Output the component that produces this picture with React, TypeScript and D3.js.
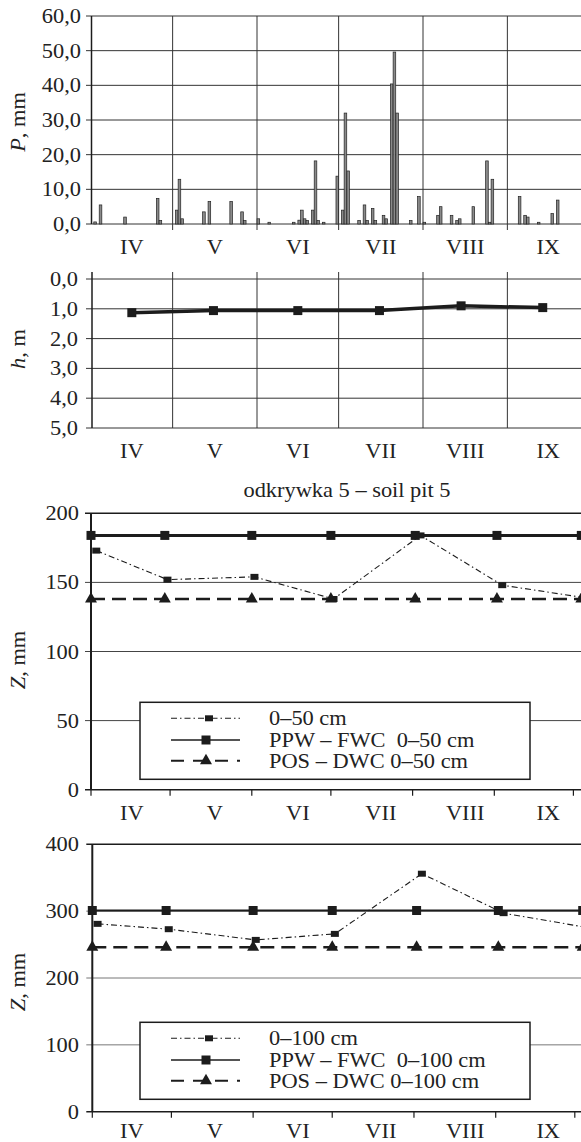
import * as d3 from 'd3'

// ---- data ----
const months = ['IV', 'V', 'VI', 'VII', 'VIII', 'IX']

// daily precipitation, mm (month-day)
const precipDates = [
  '04-02', '04-04', '04-13', '04-25', '04-26',
  '05-02', '05-03', '05-04', '05-12', '05-14', '05-22', '05-26', '05-27',
  '06-01', '06-05', '06-14', '06-16', '06-17', '06-18', '06-19', '06-21', '06-22', '06-23', '06-25', '06-30',
  '07-02', '07-03', '07-04', '07-08', '07-10', '07-11', '07-13', '07-14', '07-17', '07-18', '07-20', '07-21', '07-22', '07-27', '07-30',
  '08-01', '08-06', '08-07', '08-11', '08-13', '08-14', '08-19', '08-24', '08-25', '08-26',
  '09-05', '09-07', '09-08', '09-12', '09-17', '09-19',
]
const precipValues = [
  0.6, 5.5, 2.0, 7.4, 1.0,
  4.0, 12.9, 1.5, 3.5, 6.5, 6.5, 3.5, 1.0,
  1.5, 0.5, 0.5, 1.1, 4.0, 1.5, 1.0, 4.0, 18.2, 1.0, 0.5, 13.8,
  4.0, 32.0, 15.3, 1.0, 5.5, 1.0, 4.5, 1.0, 2.5, 1.5, 40.4, 49.6, 32.0, 1.0, 7.9,
  0.5, 2.5, 5.0, 2.5, 1.0, 1.5, 5.0, 18.2, 0.5, 12.9,
  7.9, 2.5, 2.0, 0.5, 3.0, 6.9,
]
const pTicks = [0, 10, 20, 30, 40, 50, 60]

// groundwater depth h, m
const hDates = ['04-16', '05-16', '06-16', '07-16', '08-15', '09-14']
const hValues = [1.13, 1.06, 1.06, 1.06, 0.9, 0.96]
const hTicks = [0, 1, 2, 3, 4, 5]

// soil water storage Z, mm
const refDates = ['04-01', '04-29', '06-01', '07-01', '08-02', '09-02', '10-04']
const measDates = ['04-03', '04-30', '06-02', '07-02', '08-04', '09-04', '10-05']
const z50Values = [173, 152, 154, 138, 184, 148, 139]
const fwc50Values = [184, 184, 184, 184, 184, 184, 184]
const dwc50Values = [138, 138, 138, 138, 138, 138, 138]
const z50Ticks = [0, 50, 100, 150, 200]

const z100Values = [281, 273, 257, 266, 356, 297, 276]
const fwc100Values = [301, 301, 301, 301, 301, 301, 301]
const dwc100Values = [246, 246, 246, 246, 246, 246, 246]
const z100Ticks = [0, 100, 200, 300, 400]

const title = 'odkrywka 5 – soil pit 5'
const legend50 = ['0–50 cm', 'PPW – FWC \u00a00–50 cm', 'POS – DWC 0–50 cm']
const legend100 = ['0–100 cm', 'PPW – FWC \u00a00–100 cm', 'POS – DWC 0–100 cm']

// ---- helpers ----
const day = (s: string) => new Date(2000, +s.slice(0, 2) - 1, +s.slice(3))
const seasonStart = new Date(2000, 3, 1)
const seasonEnd = new Date(2000, 9, 1)
const monthStarts = d3.timeMonth.range(seasonStart, d3.timeMonth.offset(seasonEnd, 1))
const monthMid = (m: Date) => new Date((+m + +d3.timeMonth.offset(m, 1)) / 2)
const comma = (v: number) => v.toFixed(1).replace('.', ',')

const FONT = "'Liberation Serif', 'Times New Roman', serif"
const SX = 1.12
const INK = '#1c1c1c'

function T({ x, y, anchor = 'middle', rotate = 0, size = 20, children }: any) {
  return (
    <text
      transform={`translate(${x},${y}) rotate(${rotate}) scale(${SX},1)`}
      textAnchor={anchor}
      fontSize={size}
      fontFamily={FONT}
      fill="#222"
    >
      {children}
    </text>
  )
}

const squarePath = (w: number, h: number) => `M${-w / 2},${-h / 2}h${w}v${h}h${-w}Z`
const triPath = d3.symbol().type(d3.symbolTriangle).size(62)()

// ---- panels ----
function PrecipPanel() {
  const x = d3.scaleTime().domain([seasonStart, seasonEnd]).range([91, 589])
  const y = d3.scaleLinear().domain([0, 60]).range([224, 16])
  const halfDay = (x(day('04-02')) - x(day('04-01'))) / 2
  return (
    <g>
      {pTicks.map(t => (
        <g key={t}>
          <line x1={86} x2={581} y1={y(t)} y2={y(t)} stroke="#333" strokeWidth={1} />
          <T x={81} y={y(t) + 7} anchor="end">{comma(t)}</T>
        </g>
      ))}
      {monthStarts.slice(1).map(m => (
        <line key={+m} x1={x(m)} x2={x(m)} y1={y(60)} y2={y(0) + 6} stroke="#333" strokeWidth={1} />
      ))}
      <line x1={91.5} x2={91.5} y1={y(60)} y2={y(0)} stroke={INK} strokeWidth={1.5} />
      {precipDates.map((d, i) => (
        <rect
          key={d}
          x={x(day(d)) + halfDay - 1.3}
          y={y(precipValues[i])}
          width={2.6}
          height={y(0) - y(precipValues[i])}
          fill="#8a8a8a"
          stroke="#222"
          strokeWidth={0.7}
        />
      ))}
      {months.map((m, i) => (
        <T key={m} x={x(monthMid(monthStarts[i]))} y={254}>{m}</T>
      ))}
      <T x={25} y={122} rotate={-90}>
        <tspan fontStyle="italic">P</tspan>, mm
      </T>
    </g>
  )
}

function DepthPanel() {
  const x = d3.scaleTime().domain([seasonStart, seasonEnd]).range([91, 589])
  const y = d3.scaleLinear().domain([0, 5]).range([279, 428])
  const line = d3.line<number>().x((_, i) => x(day(hDates[i]))).y(v => y(v))
  return (
    <g>
      {hTicks.map(t => (
        <g key={t}>
          <line x1={86} x2={581} y1={y(t)} y2={y(t)} stroke="#333" strokeWidth={1} />
          <T x={78} y={y(t) + 7} anchor="end">{comma(t)}</T>
        </g>
      ))}
      {monthStarts.slice(1).map(m => (
        <line key={+m} x1={x(m)} x2={x(m)} y1={272} y2={y(5)} stroke="#333" strokeWidth={1} />
      ))}
      <line x1={92} x2={92} y1={272} y2={y(5)} stroke={INK} strokeWidth={1.5} />
      <path d={line(hValues) || ''} fill="none" stroke={INK} strokeWidth={3.5} />
      {hValues.map((v, i) => (
        <path key={i} d={squarePath(9, 9)} transform={`translate(${x(day(hDates[i]))},${y(v)})`} fill={INK} />
      ))}
      {months.map((m, i) => (
        <T key={m} x={x(monthMid(monthStarts[i]))} y={458}>{m}</T>
      ))}
      <T x={25} y={349} rotate={-90}>
        <tspan fontStyle="italic">h</tspan>, m
      </T>
    </g>
  )
}

function StoragePanel({ top, bottom, x0, x1, max, ticks, meas, fwc, dwc, labels, legendTop, thickFwc, gridColor, labelY, yLabelY }: any) {
  const x = d3.scaleTime().domain([seasonStart, seasonEnd]).range([x0, x1])
  const xLab = d3.scaleTime().domain([seasonStart, seasonEnd]).range([91, 589])
  const y = d3.scaleLinear().domain([0, max]).range([bottom, top])
  const lineOn = (dates: string[]) =>
    d3.line<number>().x((_, i) => x(day(dates[i]))).y(v => y(v))
  const rows = [legendTop + 16, legendTop + 37.7, legendTop + 58.4]
  return (
    <g>
      {ticks.map((t: number) => (
        <g key={t}>
          <line
            x1={x0 - 6}
            x2={581}
            y1={y(t)}
            y2={y(t)}
            stroke={t === 0 || t === max ? INK : gridColor}
            strokeWidth={t === 0 || t === max ? 1.5 : 1}
          />
          <T x={79} y={y(t) + 7} anchor="end">{t}</T>
        </g>
      ))}
      {monthStarts.map(m => (
        <line key={+m} x1={x(m)} x2={x(m)} y1={bottom} y2={bottom + 6} stroke={INK} strokeWidth={1.2} />
      ))}
      <line x1={x0} x2={x0} y1={top} y2={bottom} stroke={INK} strokeWidth={2} />

      <path d={lineOn(refDates)(dwc) || ''} fill="none" stroke={INK} strokeWidth={2.5} strokeDasharray="14,7" />
      <path d={lineOn(refDates)(fwc) || ''} fill="none" stroke={INK} strokeWidth={thickFwc} />
      <path d={lineOn(measDates)(meas) || ''} fill="none" stroke={INK} strokeWidth={1.1} strokeDasharray="6,3,1.5,3" />
      {dwc.map((v: number, i: number) => (
        <path key={'d' + i} d={triPath || ''} transform={`translate(${x(day(refDates[i]))},${y(v)})`} fill={INK} />
      ))}
      {fwc.map((v: number, i: number) => (
        <path key={'f' + i} d={squarePath(9, 9)} transform={`translate(${x(day(refDates[i]))},${y(v)})`} fill={INK} />
      ))}
      {meas.map((v: number, i: number) => (
        <path key={'m' + i} d={squarePath(8, 6)} transform={`translate(${x(day(measDates[i]))},${y(v)})`} fill={INK} />
      ))}

      {months.map((m, i) => (
        <T key={m} x={xLab(monthMid(monthStarts[i]))} y={labelY}>{m}</T>
      ))}
      <T x={25} y={yLabelY} rotate={-90}>
        <tspan fontStyle="italic">Z</tspan>, mm
      </T>

      <rect x={140} y={legendTop} width={390} height={77} fill="#fff" stroke={INK} strokeWidth={1.5} />
      <line x1={171} x2={240} y1={rows[0]} y2={rows[0]} stroke={INK} strokeWidth={1.1} strokeDasharray="6,3,1.5,3" />
      <path d={squarePath(8, 6)} transform={`translate(209,${rows[0]})`} fill={INK} />
      <line x1={171} x2={240} y1={rows[1]} y2={rows[1]} stroke={INK} strokeWidth={1.5} />
      <path d={squarePath(9, 9)} transform={`translate(206,${rows[1]})`} fill={INK} />
      <line x1={171} x2={240} y1={rows[2]} y2={rows[2]} stroke={INK} strokeWidth={2} strokeDasharray="13,9" />
      <path d={triPath || ''} transform={`translate(206,${rows[2]})`} fill={INK} />
      {labels.map((l: string, i: number) => (
        <T key={l} x={269} y={rows[i] + 7} anchor="start">{l}</T>
      ))}
    </g>
  )
}

export default function App() {
  return (
    <svg
      width={581}
      height={1142}
      style={{ position: 'absolute', left: 0, top: 0, background: '#fff' }}
    >
      <rect width={581} height={1142} fill="#fff" />
      <PrecipPanel />
      <DepthPanel />
      <T x={347} y={497}>{title}</T>
      <StoragePanel
        top={513.3}
        bottom={789.7}
        x0={91}
        x1={573.4}
        max={200}
        ticks={z50Ticks}
        meas={z50Values}
        fwc={fwc50Values}
        dwc={dwc50Values}
        labels={legend50}
        legendTop={702.3}
        thickFwc={3}
        gridColor="#444"
        labelY={820}
        yLabelY={660}
      />
      <StoragePanel
        top={844.3}
        bottom={1111.7}
        x0={92.3}
        x1={574.8}
        max={400}
        ticks={z100Ticks}
        meas={z100Values}
        fwc={fwc100Values}
        dwc={dwc100Values}
        labels={legend100}
        legendTop={1022.3}
        thickFwc={2}
        gridColor="#777"
        labelY={1138}
        yLabelY={982}
      />
    </svg>
  )
}
